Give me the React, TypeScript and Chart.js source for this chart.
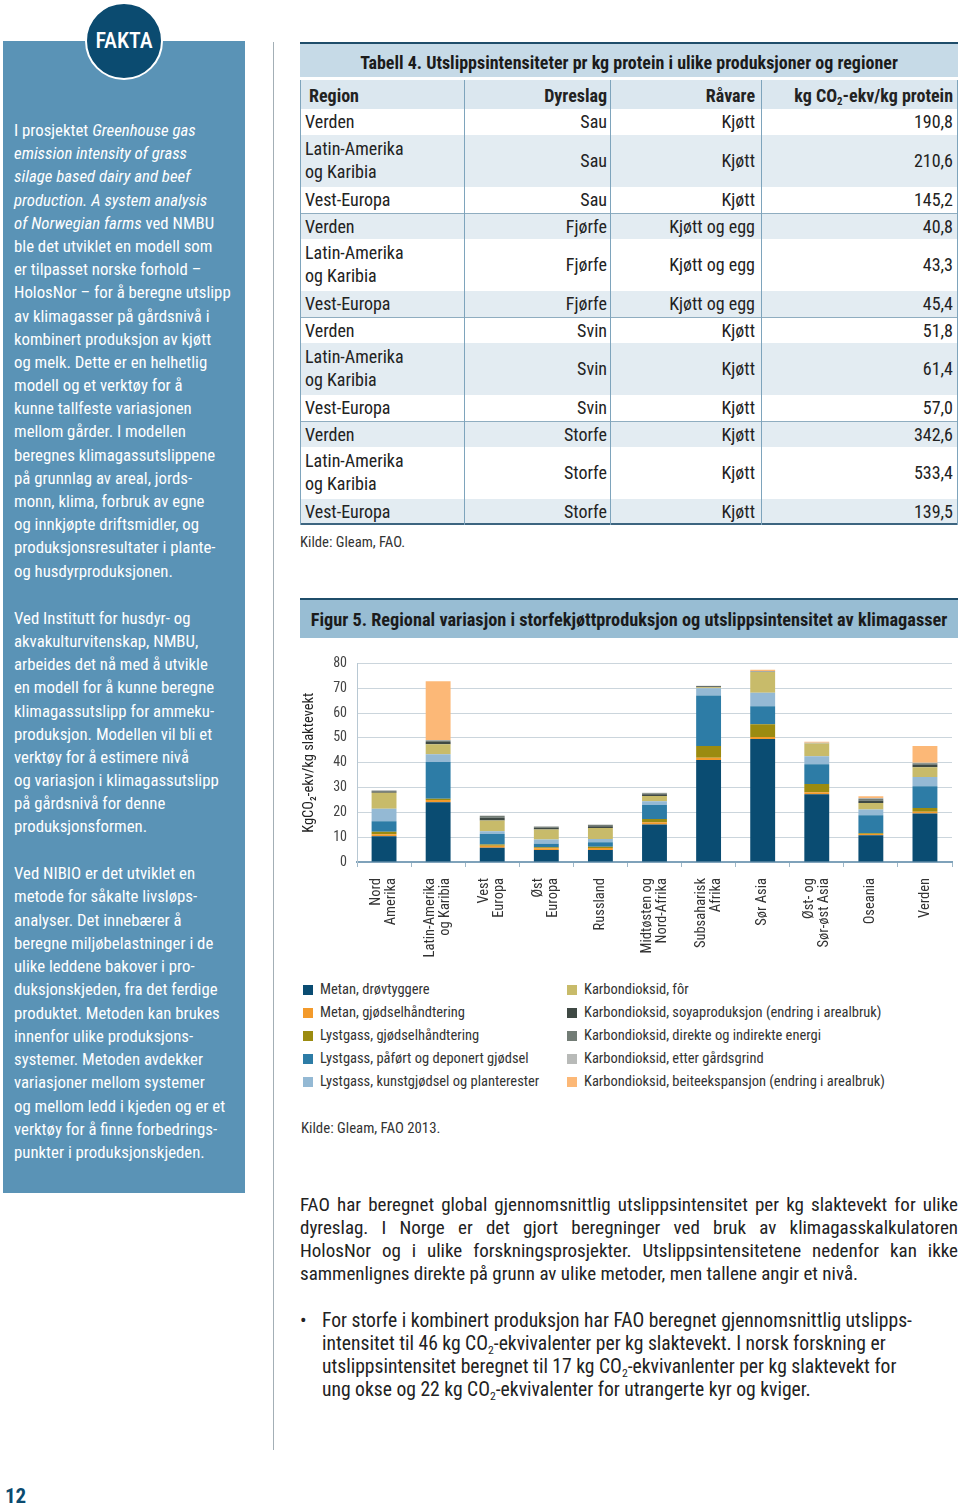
import React, { useEffect, useRef } from "react";
import { Chart, registerables } from "chart.js";
Chart.register(...registerables);

const FONT = '"Liberation Sans Narrow", "Roboto Condensed", "DejaVu Sans Condensed", Roboto, sans-serif';

// ---------- Figure 5 data ----------
const regions = [
  ["Nord", "Amerika"],
  ["Latin-Amerika", "og Karibia"],
  ["Vest", "Europa"],
  ["Øst", "Europa"],
  "Russland",
  ["Midtøsten og", "Nord-Afrika"],
  ["Subsaharisk", "Afrika"],
  "Sør Asia",
  ["Øst- og", "Sør-øst Asia"],
  "Oseania",
  "Verden",
];
const yMin = 0;
const yMax = 80;
const yStep = 10;
const yTitle = "KgCO₂-ekv/kg slaktevekt";

const seriesNames = [
  "Metan, drøvtyggere",
  "Metan, gjødselhåndtering",
  "Lystgass, gjødselhåndtering",
  "Lystgass, påført og deponert gjødsel",
  "Lystgass, kunstgjødsel og planterester",
  "Karbondioksid, fôr",
  "Karbondioksid, soyaproduksjon (endring i arealbruk)",
  "Karbondioksid, direkte og indirekte energi",
  "Karbondioksid, etter gårdsgrind",
  "Karbondioksid, beiteekspansjon (endring i arealbruk)",
];
const seriesColors = [
  "#0a4c72",
  "#f39a2b",
  "#9b8b10",
  "#2d7ca6",
  "#94b9d4",
  "#c8bb6a",
  "#3f4944",
  "#727c75",
  "#b8bab8",
  "#fcb877",
];
const metanDrovtyggere = [10.4, 24.1, 5.7, 4.8, 4.8, 15.1, 41.1, 49.5, 27.3, 10.8, 19.5];
const metanGjodsel = [0.8, 0.9, 0.8, 0.7, 0.8, 0.9, 0.9, 0.9, 0.8, 0.5, 0.7];
const lystgassGjodsel = [1.0, 0.5, 0.5, 0.4, 0.5, 1.3, 4.7, 5.1, 3.3, 0.3, 1.6];
const lystgassPafort = [4.2, 14.8, 4.3, 1.5, 1.9, 5.7, 20.4, 7.2, 8.0, 7.2, 8.7];
const lystgassKunstgjodsel = [5.0, 3.1, 1.1, 1.7, 1.3, 1.5, 2.9, 5.5, 3.2, 2.3, 3.7];
const co2For = [6.5, 4.0, 4.3, 4.0, 4.4, 2.1, 0.4, 8.3, 5.1, 2.7, 4.0];
const co2Soya = [0.5, 0.9, 1.1, 0.7, 0.7, 0.7, 0.4, 0.0, 0.0, 0.9, 1.1];
const co2Energi = [0.3, 0.6, 0.7, 0.4, 0.5, 0.4, 0.1, 0.2, 0.1, 0.8, 0.5];
const co2EtterGard = [0.2, 0.2, 0.2, 0.2, 0.2, 0.2, 0.1, 0.2, 0.2, 0.3, 0.2];
const co2Beite = [0.0, 23.7, 0.0, 0.0, 0.0, 0.0, 0.0, 0.5, 0.4, 0.7, 6.7];
const seriesValues = [
  metanDrovtyggere,
  metanGjodsel,
  lystgassGjodsel,
  lystgassPafort,
  lystgassKunstgjodsel,
  co2For,
  co2Soya,
  co2Energi,
  co2EtterGard,
  co2Beite,
];

// ---------- Table 4 data ----------
const tableRegion = [
  "Verden", "Latin-Amerika\nog Karibia", "Vest-Europa",
  "Verden", "Latin-Amerika\nog Karibia", "Vest-Europa",
  "Verden", "Latin-Amerika\nog Karibia", "Vest-Europa",
  "Verden", "Latin-Amerika\nog Karibia", "Vest-Europa",
];
const tableAnimal = [
  "Sau", "Sau", "Sau",
  "Fjørfe", "Fjørfe", "Fjørfe",
  "Svin", "Svin", "Svin",
  "Storfe", "Storfe", "Storfe",
];
const tableProduct = [
  "Kjøtt", "Kjøtt", "Kjøtt",
  "Kjøtt og egg", "Kjøtt og egg", "Kjøtt og egg",
  "Kjøtt", "Kjøtt", "Kjøtt",
  "Kjøtt", "Kjøtt", "Kjøtt",
];
const tableValue = [
  "190,8", "210,6", "145,2",
  "40,8", "43,3", "45,4",
  "51,8", "61,4", "57,0",
  "342,6", "533,4", "139,5",
];

const Sub2 = () => (
  <span style={{ fontSize: "0.6em", lineHeight: 1, position: "relative", top: "0.3em" }}>2</span>
);

// draws the multi-line category labels of the x scale, centred on each category
const xLabelPlugin = {
  id: "xCategoryLabels",
  afterDraw(chart: any) {
    const xs = chart.scales.x;
    const ctx = chart.ctx;
    const labels = chart.data.labels as any[];
    const lh = 15;
    ctx.save();
    ctx.font = `14.5px ${FONT}`;
    ctx.fillStyle = "#333";
    ctx.textAlign = "right";
    ctx.textBaseline = "middle";
    labels.forEach((lab, i) => {
      const lines = Array.isArray(lab) ? lab : [lab];
      const px = xs.getPixelForValue(i);
      lines.forEach((ln: string, j: number) => {
        const cx = px + (j - (lines.length - 1) / 2) * lh;
        ctx.save();
        ctx.translate(cx, xs.top + 16);
        ctx.rotate(-Math.PI / 2);
        ctx.fillText(ln, 0, 0);
        ctx.restore();
      });
    });
    ctx.restore();
  },
};

function StackChart() {
  const ref = useRef<HTMLCanvasElement | null>(null);
  useEffect(() => {
    if (!ref.current) return;
    const chart = new Chart(ref.current, {
      type: "bar",
      data: {
        labels: regions as any,
        datasets: seriesNames.map((name, i) => ({
          label: name,
          data: seriesValues[i],
          backgroundColor: seriesColors[i],
          borderWidth: 0,
          barPercentage: 0.46,
          categoryPercentage: 1,
        })),
      },
      options: {
        animation: false,
        responsive: false,
        maintainAspectRatio: false,
        layout: { padding: { top: 8, right: 6, left: 0, bottom: 0 } },
        plugins: { legend: { display: false }, tooltip: { enabled: false } },
        scales: {
          x: {
            stacked: true,
            grid: {
              display: true,
              drawOnChartArea: false,
              drawTicks: true,
              tickLength: 5,
              tickColor: "#9fb8c8",
              offset: true,
            },
            border: { color: "#7fa2ba", width: 2 },
            ticks: { display: false, autoSkip: false },
            afterFit: (s: any) => {
              s.height = 106;
            },
          },
          y: {
            stacked: true,
            min: yMin,
            max: yMax,
            ticks: {
              stepSize: yStep,
              padding: 10,
              color: "#444",
              font: { family: FONT, size: 14 },
            },
            grid: { color: "#cbd5dc", drawTicks: false },
            border: { color: "#b8c8d3", width: 1 },
            title: {
              display: true,
              text: yTitle,
              color: "#222",
              padding: { top: 3, bottom: 0 },
              font: { family: FONT, size: 14.5 },
            },
            afterFit: (s: any) => {
              s.width = 59;
            },
          },
        },
      },
      plugins: [xLabelPlugin],
    });
    return () => chart.destroy();
  }, []);
  return (
    <canvas
      ref={ref}
      width={660}
      height={323}
      style={{ position: "absolute", left: 298, top: 645, width: 660, height: 323 }}
    />
  );
}

const abs = (l: number, t: number, extra: any = {}) => ({ position: "absolute" as const, left: l, top: t, ...extra });

function Lines({ lines, left, top, lh, size, color, width }: any) {
  return (
    <div style={abs(left, top, { fontSize: size, lineHeight: lh + "px", color, width, whiteSpace: "nowrap" })}>
      {lines.map((l: any, i: number) => (
        <div key={i} style={{ height: lh }}>{l}</div>
      ))}
    </div>
  );
}

const p1 = [
  <>I prosjektet <i>Greenhouse gas</i></>,
  <i>emission intensity of grass</i>,
  <i>silage based dairy and beef</i>,
  <i>production. A system analysis</i>,
  <><i>of Norwegian farms</i> ved NMBU</>,
  "ble det utviklet en modell som",
  "er tilpasset norske forhold –",
  "HolosNor – for å beregne utslipp",
  "av klimagasser på gårdsnivå i",
  "kombinert produksjon av kjøtt",
  "og melk. Dette er en helhetlig",
  "modell og et verktøy for å",
  "kunne tallfeste variasjonen",
  "mellom gårder.  I modellen",
  "beregnes klimagassutslippene",
  "på grunnlag av areal, jords-",
  "monn, klima, forbruk av egne",
  "og innkjøpte driftsmidler, og",
  "produksjonsresultater i plante-",
  "og husdyrproduksjonen.",
];
const p2 = [
  "Ved Institutt for husdyr- og",
  "akvakulturvitenskap, NMBU,",
  "arbeides det nå med å utvikle",
  "en modell for å kunne beregne",
  "klimagassutslipp for ammeku-",
  "produksjon. Modellen vil bli et",
  "verktøy for å estimere nivå",
  "og variasjon i klimagassutslipp",
  "på gårdsnivå for denne",
  "produksjonsformen.",
];
const p3 = [
  "Ved NIBIO er det utviklet en",
  "metode for såkalte livsløps-",
  "analyser. Det innebærer å",
  "beregne miljøbelastninger i de",
  "ulike leddene bakover i pro-",
  "duksjonskjeden, fra det ferdige",
  "produktet. Metoden kan brukes",
  "innenfor ulike produksjons-",
  "systemer.  Metoden avdekker",
  "variasjoner mellom systemer",
  "og mellom ledd i kjeden og er et",
  "verktøy for å finne forbedrings-",
  "punkter i produksjonskjeden.",
];

const bodyLines = [
  "FAO har beregnet global gjennomsnittlig utslippsintensitet per kg slaktevekt for ulike",
  "dyreslag. I Norge er det gjort beregninger ved bruk av klimagasskalkulatoren",
  "HolosNor og i ulike forskningsprosjekter. Utslippsintensitetene nedenfor kan ikke",
  "sammenlignes direkte på grunn av ulike metoder, men tallene angir et nivå.",
];
const bulletLines = [
  <>For storfe i kombinert produksjon har FAO beregnet gjennomsnittlig utslipps-</>,
  <>intensitet til 46 kg CO<Sub2 />-ekvivalenter per kg slaktevekt. I norsk forskning er</>,
  <>utslippsintensitet beregnet til 17 kg CO<Sub2 />-ekvivanlenter per kg slaktevekt for</>,
  <>ung okse og 22 kg CO<Sub2 />-ekvivalenter for utrangerte kyr og kviger.</>,
];

function Table4() {
  const colX = [300, 464, 610, 761, 958];
  const rows: any[] = [];
  let y = 109;
  for (let i = 0; i < tableRegion.length; i++) {
    const two = tableRegion[i].includes("\n");
    const h = two ? 52 : 26;
    const bg = i % 2 === 0 ? "#ffffff" : "#e3ecf2";
    rows.push(
      <div key={i} style={abs(300, y, { width: 658, height: h, background: bg, borderTop: i % 3 === 0 && i > 0 ? "1px solid #8fadc0" : "none", boxSizing: "border-box" })}>
        <div style={abs(5, two ? 2 : 0, { lineHeight: (two ? 23 : 26) + "px", whiteSpace: "pre" })}>{tableRegion[i]}</div>
        <div style={abs(0, 0, { width: colX[2] - 300 - 3, textAlign: "right", lineHeight: h + "px" })}>{tableAnimal[i]}</div>
        <div style={abs(0, 0, { width: colX[3] - 300 - 6, textAlign: "right", lineHeight: h + "px" })}>{tableProduct[i]}</div>
        <div style={abs(0, 0, { width: 658 - 5, textAlign: "right", lineHeight: h + "px" })}>{tableValue[i]}</div>
      </div>
    );
    y += h;
  }
  const bottom = y;
  return (
    <div style={{ fontSize: 18, color: "#222" }}>
      <div style={abs(300, 42, { width: 658, height: 35, background: "#c6dae7", borderTop: "2px solid #1f4d6a", boxSizing: "border-box", textAlign: "center", lineHeight: "38px", fontWeight: 700, fontSize: 18, color: "#1b1b1b", whiteSpace: "nowrap" })}>
        Tabell 4. Utslippsintensiteter pr kg protein i ulike produksjoner og regioner
      </div>
      <div style={abs(300, 80, { width: 658, height: 29, background: "#dbe7ef", fontWeight: 700, lineHeight: "31px", whiteSpace: "nowrap" })}>
        <div style={abs(9, 0)}>Region</div>
        <div style={abs(0, 0, { width: colX[2] - 300 - 3, textAlign: "right" })}>Dyreslag</div>
        <div style={abs(0, 0, { width: colX[3] - 300 - 6, textAlign: "right" })}>Råvare</div>
        <div style={abs(0, 0, { width: 658 - 5, textAlign: "right" })}>kg CO<Sub2 />-ekv/kg protein</div>
      </div>
      {rows}
      <div style={abs(300, bottom - 2, { width: 658, height: 2, background: "#3d6580" })} />
      {colX.map((x, i) => (
        <div key={i} style={abs(i === 4 ? x - 1 : x, 80, { width: 1, height: bottom - 80, background: "#7ea4bc" })} />
      ))}
      <div style={abs(300, bottom + 8, { fontSize: 14.7, color: "#333" })}>Kilde: Gleam, FAO.</div>
    </div>
  );
}

export default function App() {
  return (
    <div style={{ position: "absolute", left: 0, top: 0, width: 960, height: 1510, background: "#fff", fontFamily: FONT, overflow: "hidden" }}>
      {/* left fact panel */}
      <div style={abs(3, 41, { width: 242, height: 1152, background: "#5a93b6" })} />
      <div style={abs(85, 2, { width: 78, height: 78, borderRadius: "50%", background: "#0b4b70", border: "2px solid #fff", boxSizing: "border-box", color: "#fff", fontSize: 22, fontWeight: 500, textAlign: "center", lineHeight: "74px" })}>FAKTA</div>
      <Lines lines={p1} left={14} top={119} lh={23.2} size={16.8} color="#fff" />
      <Lines lines={p2} left={14} top={607} lh={23.15} size={16.8} color="#fff" />
      <Lines lines={p3} left={14} top={862} lh={23.25} size={16.8} color="#fff" />
      {/* vertical rule */}
      <div style={abs(273, 42, { width: 1, height: 1408, background: "#a3afb6" })} />

      <Table4 />

      {/* figure title */}
      <div style={abs(300, 598, { width: 658, height: 40, background: "#98bdd3", borderTop: "2px solid #1f4d6a", boxSizing: "border-box", textAlign: "center", lineHeight: "40px", fontWeight: 700, fontSize: 18.3, color: "#1b1b1b", whiteSpace: "nowrap" })}>
        Figur 5. Regional variasjon i storfekjøttproduksjon og utslippsintensitet av klimagasser
      </div>

      <StackChart />

      {/* legend */}
      {seriesNames.map((n, i) => {
        const col = i < 5 ? 0 : 1;
        const row = i % 5;
        const x = col === 0 ? 303 : 567;
        const y = 990 + row * 23.1;
        return (
          <div key={n}>
            <div style={abs(x, y - 5, { width: 10, height: 10, background: seriesColors[i] })} />
            <div style={abs(x + 17, y - 10, { fontSize: 14.5, lineHeight: "20px", color: "#333", whiteSpace: "nowrap" })}>{n}</div>
          </div>
        );
      })}
      <div style={abs(301, 1119, { fontSize: 14.8, color: "#333" })}>Kilde: Gleam, FAO 2013.</div>

      {/* body text */}
      <div style={abs(300, 1193, { width: 658, fontSize: 19, lineHeight: "23px", color: "#222" })}>
        {bodyLines.map((l, i) => (
          <div key={i} style={{ textAlign: "justify", textAlignLast: i < bodyLines.length - 1 ? "justify" : "left", whiteSpace: "nowrap" } as any}>{l}</div>
        ))}
      </div>
      <div style={abs(300, 1309, { fontSize: 19.5, lineHeight: "23px", color: "#222" })}>•</div>
      <Lines lines={bulletLines} left={322} top={1309} lh={23} size={19.6} color="#222" />

      <div style={abs(5, 1484, { fontSize: 21, fontWeight: 700, color: "#0b4b70" })}>12</div>
    </div>
  );
}
